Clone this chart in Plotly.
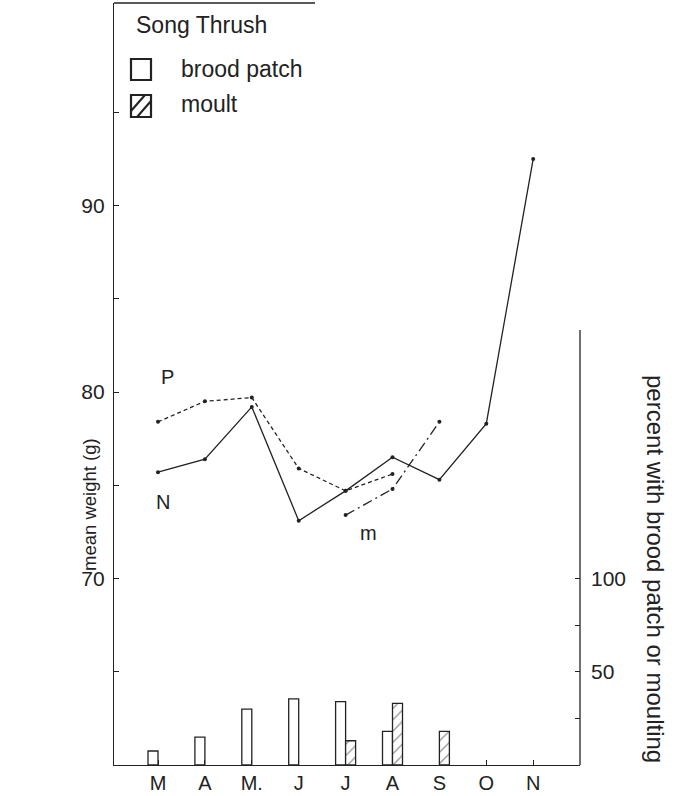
import plotly.graph_objects as go

# ---------------- data ----------------
months = ["M", "A", "M.", "J", "J", "A", "S", "O", "N"]
# mean weight (g)
weight_N = [75.7, 76.4, 79.2, 73.1, 74.7, 76.5, 75.3, 78.3, 92.5]          # solid
weight_P = [78.4, 79.5, 79.7, 75.9, 74.7, 75.6, None, None, None]          # dashed
weight_m = [None, None, None, None, 73.4, 74.8, 78.4, None, None]          # dash-dot
# percent with brood patch / moult
brood_patch = [7.5, 15, 30, 35.5, 34, 18, None, None, None]
moult = [None, None, None, None, 13, 33, 18, None, None]

left_ticks = [65, 70, 75, 80, 85, 90, 95]
left_ticktext = ["", "70", "", "80", "", "90", ""]
right_ticks = [25, 50, 75, 100]
right_ticktext = ["", "50", "", "100"]

# ---------------- layout geometry ----------------
W, H = 679, 796
L, R, T, B = 114, 99, 3, 31
pw, ph = W - L - R, H - T - B
ink = "#222222"
FONT = "Liberation Sans"
x_idx = list(range(len(months)))

def px(x):
    return (x - L) / pw

def py(y):
    return (H - B - y) / ph

ymin = 60
gpp = 18.65  # px per gram
ymax = ymin + ph / gpp
y2max = (ymax - ymin) * 10  # 100 % == 10 g

fig = go.Figure()

# bars
fig.add_trace(go.Bar(x=x_idx, y=brood_patch, yaxis="y2", name="brood patch",
                     marker=dict(color="white", line=dict(color=ink, width=1.3)),
                     showlegend=False))
fig.add_trace(go.Bar(x=x_idx, y=moult, yaxis="y2", name="moult",
                     marker=dict(color="white", line=dict(color=ink, width=1.3),
                                 pattern=dict(shape="/", fgcolor=ink, bgcolor="white",
                                              size=8, solidity=0.15)),
                     showlegend=False))

# lines
line_kw = dict(mode="lines+markers", marker=dict(size=4, color=ink), showlegend=False)
fig.add_trace(go.Scatter(x=x_idx, y=weight_P, line=dict(color=ink, width=1.3, dash="4px,3px"),
                         connectgaps=False, **line_kw))
fig.add_trace(go.Scatter(x=x_idx, y=weight_N, line=dict(color=ink, width=1.3), **line_kw))
fig.add_trace(go.Scatter(x=x_idx, y=weight_m, line=dict(color=ink, width=1.3, dash="10px,4px,2px,4px"),
                         **line_kw))

x0 = 0 - (158 - L) / 46.9
x1 = (W - R - 158) / 46.9

LEG = dict(size=23, family=FONT, color=ink)
annotations = [
    dict(text="P", x=px(167), y=py(377)),
    dict(text="N", x=px(163), y=py(502)),
    dict(text="m", x=px(368), y=py(533)),
    dict(text="Song Thrush", x=px(134), y=py(25), xanchor="left", font=LEG),
    dict(text="brood patch", x=px(179), y=py(69), xanchor="left", font=LEG),
    dict(text="moult", x=px(179), y=py(104), xanchor="left", font=LEG),
    dict(text="mean weight (g)", x=px(89), y=py(505), textangle=-90, font=dict(size=18.5, family=FONT, color=ink)),
    dict(text="percent with brood patch or moulting", x=px(656), y=py(569), textangle=90,
         font=dict(size=24, family=FONT, color=ink)),
]
for a in annotations:
    a.setdefault("font", dict(size=20, family=FONT, color=ink))
    a.update(xref="paper", yref="paper", showarrow=False)
    a.setdefault("xanchor", "center")
    a.setdefault("yanchor", "middle")

shapes = [
    # legend frame top line
    dict(type="line", x0=px(L), x1=px(315), y0=py(3), y1=py(3), line=dict(color=ink, width=1.3)),
    # right axis line (lower part only)
    dict(type="line", x0=1, x1=1, y0=0, y1=py(330), line=dict(color=ink, width=1.3)),
    # brood patch icon
    dict(type="rect", x0=px(131), x1=px(151), y0=py(59), y1=py(80), line=dict(color=ink, width=2.2),
         fillcolor="white"),
    # moult icon
    dict(type="rect", x0=px(131), x1=px(151), y0=py(95), y1=py(117), line=dict(color=ink, width=2.2),
         fillcolor="white"),
    dict(type="line", x0=px(131), x1=px(145), y0=py(111), y1=py(95), line=dict(color=ink, width=2)),
    dict(type="line", x0=px(137), x1=px(151), y0=py(117), y1=py(101), line=dict(color=ink, width=2)),
]
for s in shapes:
    s.update(xref="paper", yref="paper")

fig.update_layout(
    width=W, height=H,
    margin=dict(l=L, r=R, t=T, b=B, pad=0),
    paper_bgcolor="white", plot_bgcolor="white",
    font=dict(family=FONT, size=20, color=ink),
    barmode="group", bargap=1 - 20 / 46.9, bargroupgap=0,
    showlegend=False,
    xaxis=dict(range=[x0, x1], tickvals=x_idx, ticktext=months, ticks="inside", ticklen=5,
               tickcolor=ink, showline=True, linecolor=ink, linewidth=1.3, showgrid=False,
               zeroline=False, tickfont=dict(size=20, family=FONT, color=ink)),
    yaxis=dict(range=[ymin, ymax], tickvals=left_ticks, ticktext=left_ticktext, ticks="inside",
               ticklen=5, tickcolor=ink, showline=True, linecolor=ink, linewidth=1.3,
               showgrid=False, zeroline=False, ticklabelstandoff=4,
               tickfont=dict(size=21, family=FONT, color=ink)),
    yaxis2=dict(range=[0, y2max], overlaying="y", side="right", tickvals=right_ticks,
                ticktext=right_ticktext, ticks="inside", ticklen=5, tickcolor=ink,
                showline=False, showgrid=False, zeroline=False,
                ticklabelstandoff=10, tickfont=dict(size=21, family=FONT, color=ink)),
    annotations=annotations,
    shapes=shapes,
)

fig.write_html("out.html")
